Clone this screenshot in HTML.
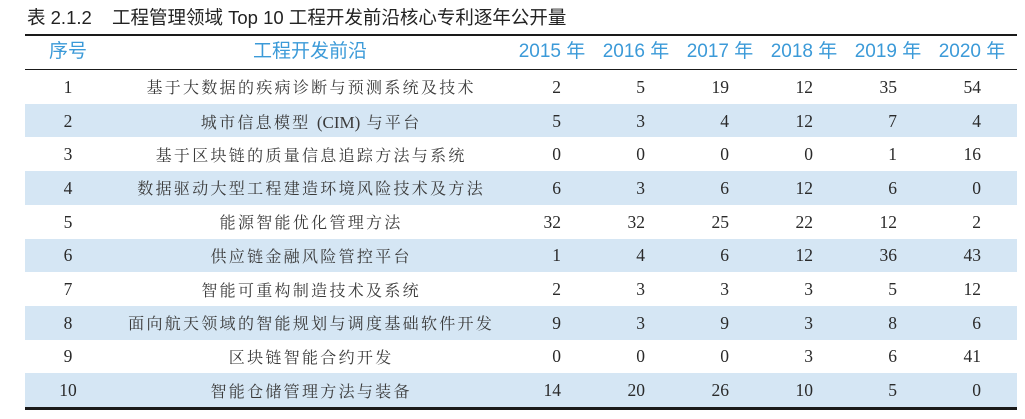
<!DOCTYPE html>
<html>
<head>
<meta charset="utf-8">
<style>
  html,body{margin:0;padding:0;background:#fff;}
  body{width:1025px;height:419px;position:relative;overflow:hidden;}
  .abs{position:absolute;white-space:nowrap;}
  .title{left:27px;top:7px;height:22px;line-height:22px;font-size:18.5px;color:#222;
    font-family:"Liberation Sans","Noto Sans CJK SC",sans-serif;}
  .hline{position:absolute;left:25px;width:992px;background:#1a1a1a;}
  .band{position:absolute;left:25px;width:992px;background:#d5e6f4;}
  .hd{position:absolute;top:35px;height:33px;line-height:33px;font-size:19px;color:#3b9ad8;
    font-family:"Liberation Sans","Noto Sans CJK SC",sans-serif;text-align:center;white-space:nowrap;}
  .cell{position:absolute;height:34px;line-height:34px;white-space:nowrap;color:#2a2a2a;
    font-family:"Liberation Serif","Noto Serif CJK SC",serif;}
  .idx{width:60px;left:38px;text-align:center;font-size:17.5px;}
  .name{width:500px;left:60px;text-align:center;font-size:16px;letter-spacing:2.3px;text-indent:2.3px;color:#3a3a3a;padding-top:2.5px;}
  .name .l{letter-spacing:0;font-size:17px;}
  .num{width:60px;text-align:right;font-size:17.5px;}
</style>
</head>
<body>
<div class="abs title">表 2.1.2</div>
<div class="abs title" style="left:112px;">工程管理领域 Top 10 工程开发前沿核心专利逐年公开量</div>

<!-- bands -->
<div class="band" style="top:103.7px;height:33.7px;"></div>
<div class="band" style="top:171.1px;height:33.7px;"></div>
<div class="band" style="top:238.5px;height:33.7px;"></div>
<div class="band" style="top:305.9px;height:33.7px;"></div>
<div class="band" style="top:373.3px;height:33.9px;"></div>

<!-- lines -->
<div class="hline" style="top:34px;height:2px;"></div>
<div class="hline" style="top:68.6px;height:1.3px;"></div>
<div class="hline" style="top:407.2px;height:2.5px;"></div>

<!-- header -->
<div class="hd" style="left:28px;width:80px;">序号</div>
<div class="hd" style="left:210px;width:200px;">工程开发前沿</div>
<div class="hd" style="left:512px;width:80px;">2015 年</div>
<div class="hd" style="left:596px;width:80px;">2016 年</div>
<div class="hd" style="left:680px;width:80px;">2017 年</div>
<div class="hd" style="left:764px;width:80px;">2018 年</div>
<div class="hd" style="left:848px;width:80px;">2019 年</div>
<div class="hd" style="left:932px;width:80px;">2020 年</div>

<!-- row 1 -->
<div class="cell idx" style="top:69.8px;">1</div>
<div class="cell name" style="top:69.8px;">基于大数据的疾病诊断与预测系统及技术</div>
<div class="cell num" style="top:69.8px;left:501px;">2</div>
<div class="cell num" style="top:69.8px;left:585px;">5</div>
<div class="cell num" style="top:69.8px;left:669px;">19</div>
<div class="cell num" style="top:69.8px;left:753px;">12</div>
<div class="cell num" style="top:69.8px;left:837px;">35</div>
<div class="cell num" style="top:69.8px;left:921px;">54</div>

<!-- row 2 -->
<div class="cell idx" style="top:103.5px;">2</div>
<div class="cell name" style="top:103.5px;">城市信息模型 <span class="l">(CIM)</span> 与平台</div>
<div class="cell num" style="top:103.5px;left:501px;">5</div>
<div class="cell num" style="top:103.5px;left:585px;">3</div>
<div class="cell num" style="top:103.5px;left:669px;">4</div>
<div class="cell num" style="top:103.5px;left:753px;">12</div>
<div class="cell num" style="top:103.5px;left:837px;">7</div>
<div class="cell num" style="top:103.5px;left:921px;">4</div>

<!-- row 3 -->
<div class="cell idx" style="top:137.2px;">3</div>
<div class="cell name" style="top:137.2px;">基于区块链的质量信息追踪方法与系统</div>
<div class="cell num" style="top:137.2px;left:501px;">0</div>
<div class="cell num" style="top:137.2px;left:585px;">0</div>
<div class="cell num" style="top:137.2px;left:669px;">0</div>
<div class="cell num" style="top:137.2px;left:753px;">0</div>
<div class="cell num" style="top:137.2px;left:837px;">1</div>
<div class="cell num" style="top:137.2px;left:921px;">16</div>

<!-- row 4 -->
<div class="cell idx" style="top:170.9px;">4</div>
<div class="cell name" style="top:170.9px;">数据驱动大型工程建造环境风险技术及方法</div>
<div class="cell num" style="top:170.9px;left:501px;">6</div>
<div class="cell num" style="top:170.9px;left:585px;">3</div>
<div class="cell num" style="top:170.9px;left:669px;">6</div>
<div class="cell num" style="top:170.9px;left:753px;">12</div>
<div class="cell num" style="top:170.9px;left:837px;">6</div>
<div class="cell num" style="top:170.9px;left:921px;">0</div>

<!-- row 5 -->
<div class="cell idx" style="top:204.6px;">5</div>
<div class="cell name" style="top:204.6px;">能源智能优化管理方法</div>
<div class="cell num" style="top:204.6px;left:501px;">32</div>
<div class="cell num" style="top:204.6px;left:585px;">32</div>
<div class="cell num" style="top:204.6px;left:669px;">25</div>
<div class="cell num" style="top:204.6px;left:753px;">22</div>
<div class="cell num" style="top:204.6px;left:837px;">12</div>
<div class="cell num" style="top:204.6px;left:921px;">2</div>

<!-- row 6 -->
<div class="cell idx" style="top:238.3px;">6</div>
<div class="cell name" style="top:238.3px;">供应链金融风险管控平台</div>
<div class="cell num" style="top:238.3px;left:501px;">1</div>
<div class="cell num" style="top:238.3px;left:585px;">4</div>
<div class="cell num" style="top:238.3px;left:669px;">6</div>
<div class="cell num" style="top:238.3px;left:753px;">12</div>
<div class="cell num" style="top:238.3px;left:837px;">36</div>
<div class="cell num" style="top:238.3px;left:921px;">43</div>

<!-- row 7 -->
<div class="cell idx" style="top:272px;">7</div>
<div class="cell name" style="top:272px;">智能可重构制造技术及系统</div>
<div class="cell num" style="top:272px;left:501px;">2</div>
<div class="cell num" style="top:272px;left:585px;">3</div>
<div class="cell num" style="top:272px;left:669px;">3</div>
<div class="cell num" style="top:272px;left:753px;">3</div>
<div class="cell num" style="top:272px;left:837px;">5</div>
<div class="cell num" style="top:272px;left:921px;">12</div>

<!-- row 8 -->
<div class="cell idx" style="top:305.7px;">8</div>
<div class="cell name" style="top:305.7px;">面向航天领域的智能规划与调度基础软件开发</div>
<div class="cell num" style="top:305.7px;left:501px;">9</div>
<div class="cell num" style="top:305.7px;left:585px;">3</div>
<div class="cell num" style="top:305.7px;left:669px;">9</div>
<div class="cell num" style="top:305.7px;left:753px;">3</div>
<div class="cell num" style="top:305.7px;left:837px;">8</div>
<div class="cell num" style="top:305.7px;left:921px;">6</div>

<!-- row 9 -->
<div class="cell idx" style="top:339.4px;">9</div>
<div class="cell name" style="top:339.4px;">区块链智能合约开发</div>
<div class="cell num" style="top:339.4px;left:501px;">0</div>
<div class="cell num" style="top:339.4px;left:585px;">0</div>
<div class="cell num" style="top:339.4px;left:669px;">0</div>
<div class="cell num" style="top:339.4px;left:753px;">3</div>
<div class="cell num" style="top:339.4px;left:837px;">6</div>
<div class="cell num" style="top:339.4px;left:921px;">41</div>

<!-- row 10 -->
<div class="cell idx" style="top:373.1px;">10</div>
<div class="cell name" style="top:373.1px;">智能仓储管理方法与装备</div>
<div class="cell num" style="top:373.1px;left:501px;">14</div>
<div class="cell num" style="top:373.1px;left:585px;">20</div>
<div class="cell num" style="top:373.1px;left:669px;">26</div>
<div class="cell num" style="top:373.1px;left:753px;">10</div>
<div class="cell num" style="top:373.1px;left:837px;">5</div>
<div class="cell num" style="top:373.1px;left:921px;">0</div>
</body>
</html>
